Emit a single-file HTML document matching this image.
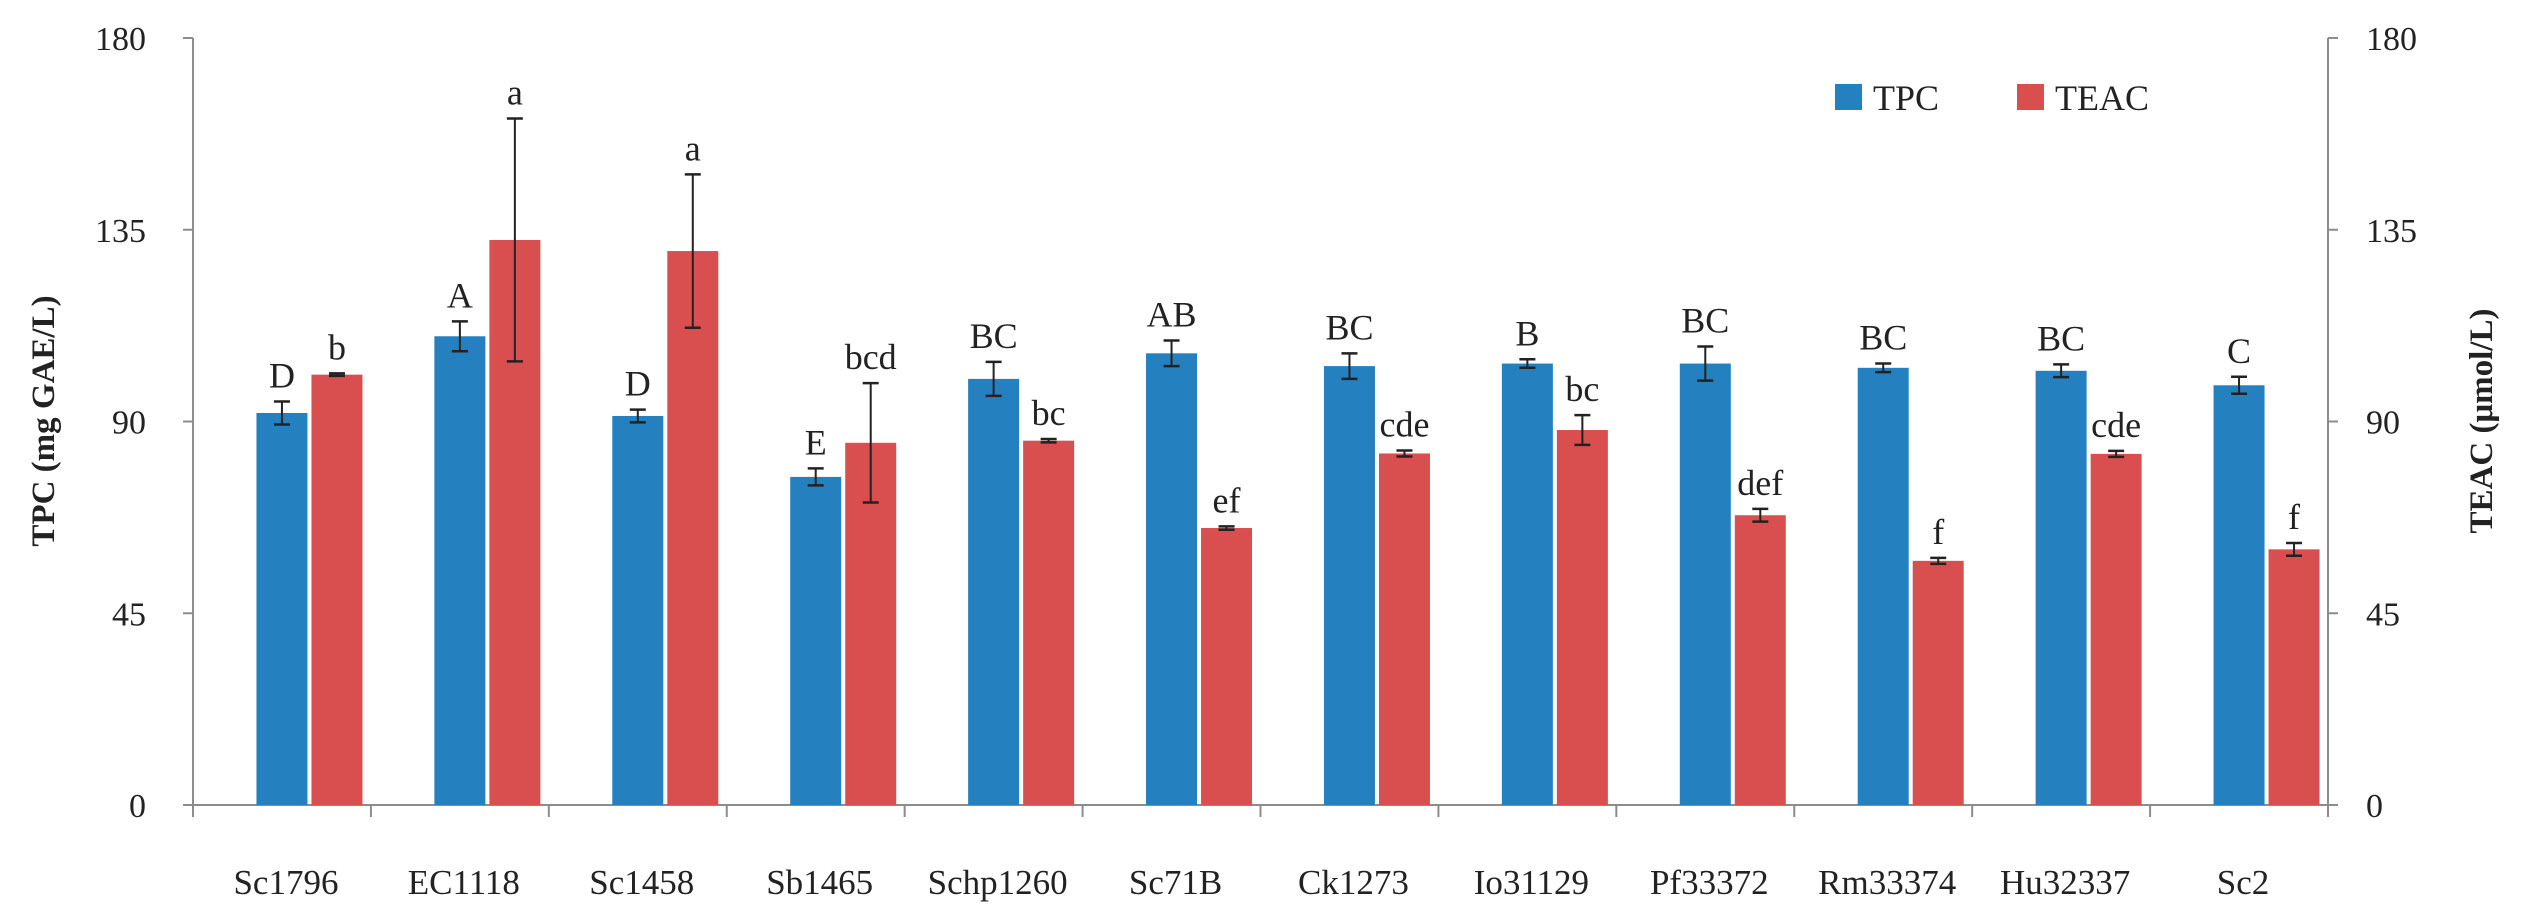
<!DOCTYPE html>
<html><head><meta charset="utf-8"><style>
html,body{margin:0;padding:0;background:#fff;}
svg{display:block;font-family:"Liberation Serif",serif;}
</style></head><body>
<svg id="chart" width="2526" height="911" viewBox="0 0 2526 911" xmlns="http://www.w3.org/2000/svg"></svg>
<script>
const categories=["Sc1796","EC1118","Sc1458","Sb1465","Schp1260","Sc71B","Ck1273","Io31129","Pf33372","Rm33374","Hu32337","Sc2"];
const tpcValues=[92,110,91.3,77,100,106,103,103.6,103.6,102.6,101.9,98.5];
const tpcErrors=[2.7,3.5,1.5,2,4,3,3,1,4,1,1.5,2];
const teacValues=[101,132.6,130,85,85.5,65,82.5,88,68,57.3,82.4,60];
const teacErrors=[0.3,28.5,18,14,0.4,0.4,0.7,3.5,1.5,0.7,0.7,1.5];
const tpcLetters=["D","A","D","E","BC","AB","BC","B","BC","BC","BC","C"];
const teacLetters=["b","a","a","bcd","bc","ef","cde","bc","def","f","cde","f"];
const yTicks=[0,45,90,135,180];

const svg=document.getElementById('chart');
const NS='http://www.w3.org/2000/svg';
const X0=193,X1=2328,Y0=805,Y1=38,YMAX=180;
const bw=(X1-X0)/categories.length;
function yScale(v){return Y0-(v/YMAX)*(Y0-Y1);}
function xCenter(i){return X0+bw*(i+0.5);}
function mk(tag,attrs,parent){const e=document.createElementNS(NS,tag);for(const k in attrs)e.setAttribute(k,attrs[k]);(parent||svg).appendChild(e);return e;}

let a=mk('line',{x1:X0,y1:Y1,x2:X0,y2:Y0,stroke:'#8c8c8c','stroke-width':2});


a=mk('line',{x1:X1,y1:Y1,x2:X1,y2:Y0+12,stroke:'#8c8c8c','stroke-width':2});


a=mk('line',{x1:X0,y1:Y0,x2:X1,y2:Y0,stroke:'#8c8c8c','stroke-width':2});



yTicks.forEach(function(t){
  const y=yScale(t);
  mk('line',{x1:X0-10,y1:y,x2:X0,y2:y,stroke:'#8c8c8c','stroke-width':2});
  mk('line',{x1:X1,y1:y,x2:X1+10,y2:y,stroke:'#8c8c8c','stroke-width':2});
  let l=mk('text',{x:146,y:y+12,'text-anchor':'end','font-size':34,fill:'#222'});
  l.textContent=t;
  
  
  let r=mk('text',{x:2366,y:y+12,'text-anchor':'start','font-size':34,fill:'#222'});
  r.textContent=t;
  
  
});
for(let i=0;i<=categories.length;i++){
  const x=X0+bw*i;
  mk('line',{x1:x,y1:Y0,x2:x,y2:Y0+12,stroke:'#8c8c8c','stroke-width':2});
}

function errBar(cx,v,e,name){
  const g=mk('g',{});
  
  
  const yt=yScale(v+e),yb=yScale(v-e);
  mk('line',{x1:cx,y1:yt,x2:cx,y2:yb,stroke:'#222','stroke-width':2},g);
  mk('line',{x1:cx-8,y1:yt,x2:cx+8,y2:yt,stroke:'#222','stroke-width':2.5},g);
  mk('line',{x1:cx-8,y1:yb,x2:cx+8,y2:yb,stroke:'#222','stroke-width':2.5},g);
}

const BW=51,GAP=4;
categories.forEach(function(c,i){
  const cx=xCenter(i);
  const bx=cx-BW/2, rx=cx+BW/2+GAP;
  let b=mk('rect',{x:bx,y:yScale(tpcValues[i]),width:BW,height:Y0-yScale(tpcValues[i]),fill:'#2580bf'});
  
  
  let r=mk('rect',{x:rx,y:yScale(teacValues[i]),width:BW,height:Y0-yScale(teacValues[i]),fill:'#d94f4f'});
  
  
  errBar(bx+BW/2,tpcValues[i],tpcErrors[i],'tpc-error-bar');
  errBar(rx+BW/2,teacValues[i],teacErrors[i],'teac-error-bar');
  let lt=mk('text',{x:bx+BW/2,y:yScale(tpcValues[i]+tpcErrors[i])-14,'text-anchor':'middle','font-size':36,fill:'#222'});
  lt.textContent=tpcLetters[i];
  
  
  let lr=mk('text',{x:rx+BW/2,y:yScale(teacValues[i]+teacErrors[i])-14,'text-anchor':'middle','font-size':36,fill:'#222'});
  lr.textContent=teacLetters[i];
  
  
  let xl=mk('text',{x:cx+GAP,y:894,'text-anchor':'middle','font-size':35,fill:'#222'});
  xl.textContent=c;
  
  
});

let t=mk('text',{x:0,y:0,transform:'translate(54,421) rotate(-90)','text-anchor':'middle','font-size':33,'font-weight':'bold',fill:'#222'});
t.textContent='TPC (mg GAE/L)';


t=mk('text',{x:0,y:0,transform:'translate(2492,421) rotate(-90)','text-anchor':'middle','font-size':33,'font-weight':'bold',fill:'#222'});
t.textContent='TEAC (μmol/L)';



const lg=mk('g',{});


let e1=mk('g',{},lg);


mk('rect',{x:1835,y:84,width:27,height:26,fill:'#2580bf'},e1);
let tx=mk('text',{x:1873,y:110,'font-size':36,fill:'#222'},e1);tx.textContent='TPC';
let e2=mk('g',{},lg);


mk('rect',{x:2017,y:84,width:27,height:26,fill:'#d94f4f'},e2);
tx=mk('text',{x:2055,y:110,'font-size':36,fill:'#222'},e2);tx.textContent='TEAC';
</script>
</body></html>
